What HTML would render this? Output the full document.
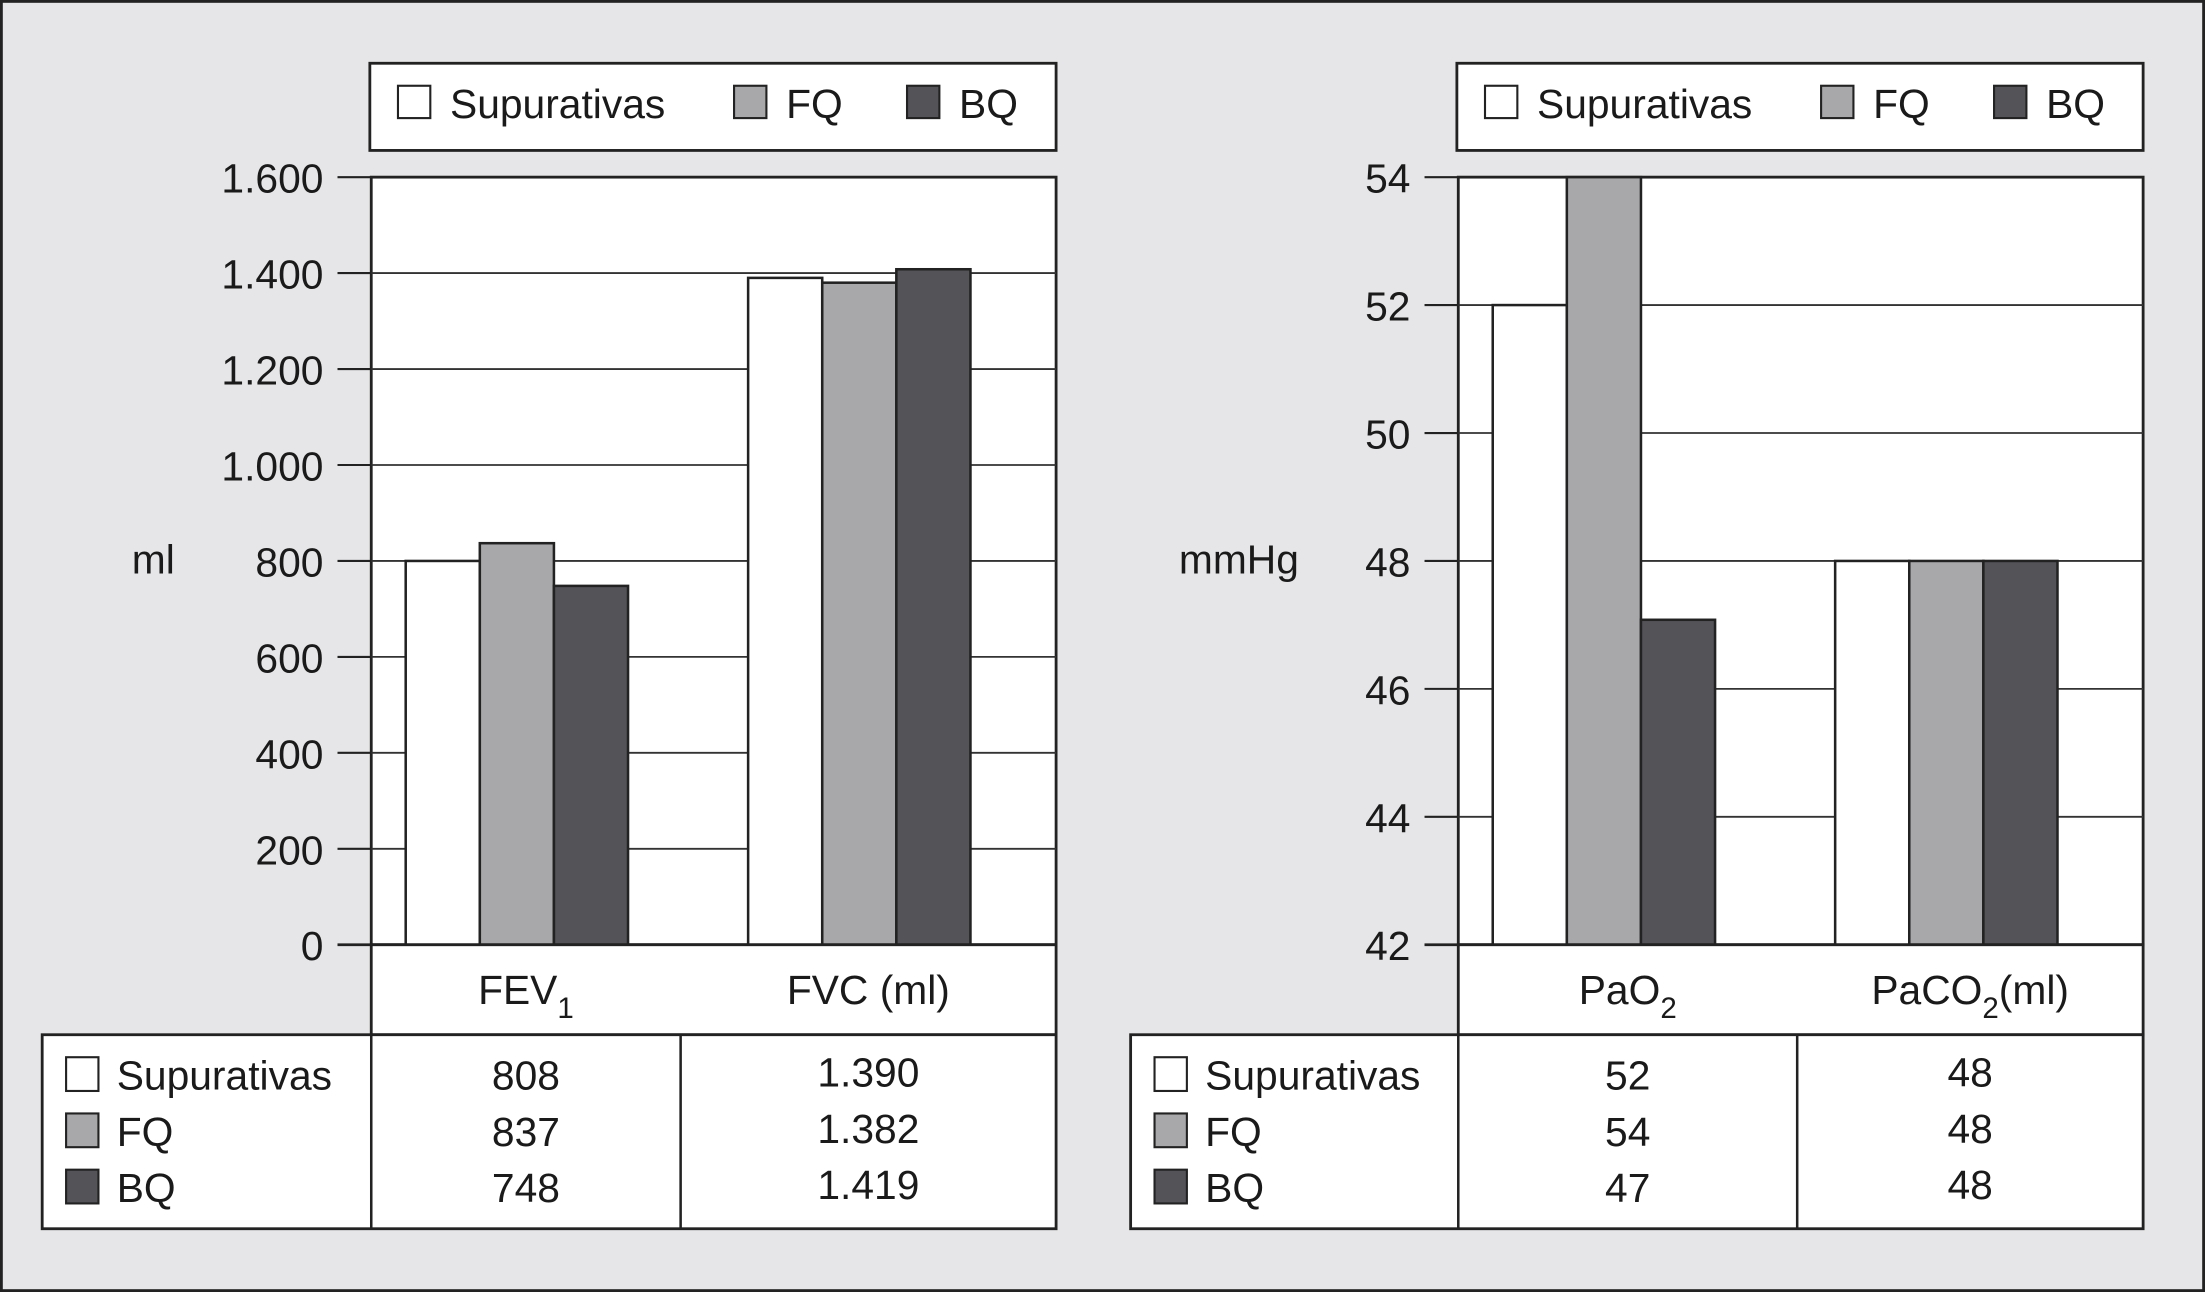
<!DOCTYPE html>
<html><head><meta charset="utf-8"><style>
html,body{margin:0;padding:0;background:#e6e6e8}
svg{display:block}
text{font-family:"Liberation Sans Narrow","Liberation Sans",sans-serif;fill:#1a1a1a;font-size:29px}
</style></head><body>
<svg id="c" width="2205" height="1292" viewBox="0 0 1568 919" preserveAspectRatio="none" xmlns="http://www.w3.org/2000/svg">
<rect x="1" y="1" width="1566" height="917" fill="#e6e6e8" stroke="#222" stroke-width="2"/>
<g id="g"></g>
</svg>
<script>
const seriesNames=["Supurativas","FQ","BQ"];
const colors=["#ffffff","#a8a8ab","#545358"];
const leftCategories=["FEV1","FVC (ml)"];
const leftSup=[800,1390];
const leftFQ=[837,1380];
const leftBQ=[748,1408];
const leftTicks=[0,200,400,600,800,1000,1200,1400,1600];
const leftTickLabels=["0","200","400","600","800","1.000","1.200","1.400","1.600"];
const leftTable=[["808","837","748"],["1.390","1.382","1.419"]];
const rightCategories=["PaO2","PaCO2(ml)"];
const rightSup=[52,48];
const rightFQ=[54,48];
const rightBQ=[47.08,48];
const rightTicks=[42,44,46,48,50,52,54];
const rightTickLabels=["42","44","46","48","50","52","54"];
const rightTable=[["52","54","47"],["48","48","48"]];

const NS="http://www.w3.org/2000/svg";
const G=document.getElementById('g');
function el(t,a,txt,p){const e=document.createElementNS(NS,t);for(const k in a)e.setAttribute(k,a[k]);if(txt!=null)e.textContent=txt;(p||G).appendChild(e);return e;}
function txt(x,y,s,anchor,name,sub){const t=el('text',{x:x,y:y,'text-anchor':anchor||'start'});


if(sub){const m=s.match(/^([A-Za-z]+?)(2|1)(.*)$/);t.appendChild(document.createTextNode(m[1]));const ts=document.createElementNS(NS,'tspan');ts.setAttribute('dy','10');ts.setAttribute('font-size','21');ts.textContent=m[2];t.appendChild(ts);if(m[3]){const t2=document.createElementNS(NS,'tspan');t2.setAttribute('dy','-10');t2.textContent=m[3];t.appendChild(t2);}}
else t.textContent=s;return t;}

function chart(o){
 const {px,pw,top,bot,min,max,ticks,labels,cats,series,table,ylab,ylabx,tblx,pre,div}=o;
 const y=v=>bot-(v-min)/(max-min)*(bot-top);
 const lg=el('rect',{x:px-1,y:45,width:pw+1,height:62,fill:'#fff',stroke:'#222','stroke-width':2});
 
 
 const lx=[px+19,px+258,px+381];
 seriesNames.forEach((n,i)=>{const r=el('rect',{x:lx[i],y:61,width:23,height:23,fill:colors[i],stroke:'#222','stroke-width':1.5});
 
 
 txt(lx[i]+37,84,n,'start',pre+'-legend-label-'+n.toLowerCase());});
 const bg=el('rect',{x:px,y:top,width:pw,height:bot-top,fill:'#fff',stroke:'#222','stroke-width':2});
 
 
 ticks.forEach((t,i)=>{const yy=y(t);
  if(i>0&&i<ticks.length-1){const gl=el('line',{x1:px,x2:px+pw,y1:yy,y2:yy,stroke:'#333','stroke-width':1.3});
  
  }
  const tk=el('line',{x1:px-24,x2:px,y1:yy,y2:yy,stroke:'#222','stroke-width':1.5});
  
  
  txt(px-34,yy+11,labels[i],'end',pre+'-y-tick-label');});
 txt(ylabx,408,ylab,'middle',pre+'-y-axis-title');
 const band=pw/cats.length,bw=52.7;
 cats.forEach((c,ci)=>{series.forEach((s,si)=>{const x0=px+ci*band+24.5+si*bw;const yy=y(s[ci]);
  const b=el('rect',{x:x0,y:yy,width:bw,height:bot-yy,fill:colors[si],stroke:'#222','stroke-width':1.8});
  
  });});
 const ax=el('line',{x1:px-24,x2:px+pw,y1:bot,y2:bot,stroke:'#222','stroke-width':2});
 
 
 const cb=el('rect',{x:px,y:bot,width:pw,height:64,fill:'#fff',stroke:'#222','stroke-width':2});
 
 
 const cx=[(px+div)/2,(div+px+pw)/2];
 cats.forEach((c,ci)=>txt(cx[ci],714,c,'middle',pre+'-category-label',/\d/.test(c)));
 const tb=el('rect',{x:tblx,y:736,width:px+pw-tblx,height:138,fill:'#fff',stroke:'#222','stroke-width':2});
 
 
 [px,div].forEach(d=>{const l=el('line',{x1:d,x2:d,y1:736,y2:874,stroke:'#222','stroke-width':1.8});
 
 });
 seriesNames.forEach((n,i)=>{const yy=752+i*40;const r=el('rect',{x:tblx+17,y:yy,width:23,height:24,fill:colors[i],stroke:'#222','stroke-width':1.5});
 
 
 txt(tblx+53,yy+23,n,'start',pre+'-table-row-label');
 txt(cx[0],yy+23,table[0][i],'middle',pre+'-table-value');
 txt(cx[1],yy+21,table[1][i],'middle',pre+'-table-value');});
}
chart({pre:'left',px:264,pw:487,top:126,bot:672,min:0,max:1600,ticks:leftTicks,labels:leftTickLabels,cats:leftCategories,series:[leftSup,leftFQ,leftBQ],table:leftTable,ylab:'ml',ylabx:109,tblx:30,div:484});
chart({pre:'right',px:1037,pw:487,top:126,bot:672,min:42,max:54,ticks:rightTicks,labels:rightTickLabels,cats:rightCategories,series:[rightSup,rightFQ,rightBQ],table:rightTable,ylab:'mmHg',ylabx:881,tblx:804,div:1278});
</script>
</body></html>
